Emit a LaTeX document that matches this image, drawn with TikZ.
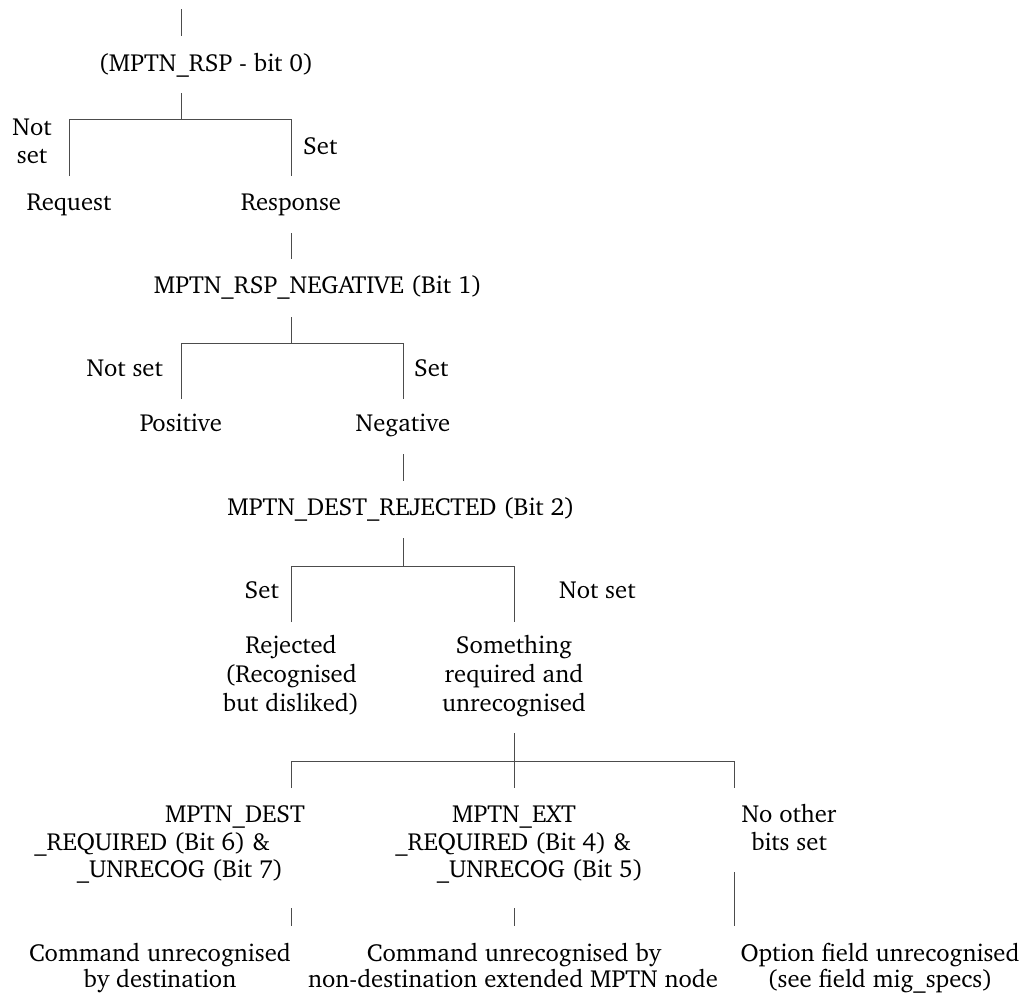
\documentclass[tikz,border=0pt]{standalone}
\usepackage[T1]{fontenc}
\usepackage{charter}
\begin{document}
\begin{tikzpicture}[x=1pt,y=-1pt,
  txt/.style={inner sep=0pt,anchor=base,font=\fontsize{24.7}{29}\selectfont},
  wire/.style={draw=black!70,line width=1pt}]
\useasboundingbox (0,0) rectangle (1028,994);

% ---- text labels ----
\node[txt] (bit0) at (206,71) {(MPTN\_RSP - bit 0)};
\node[txt] (ns0a) at (32,135) {Not};
\node[txt] (ns0b) at (32,163) {set};
\node[txt,anchor=base west] (s0) at (303,154) {Set};
\node[txt] (req) at (69,210) {Request};
\node[txt] (rsp) at (291,210) {Response};

\node[txt] (bit1) at (318,293) {MPTN\_RSP\_NEGATIVE (Bit 1)};
\node[txt,anchor=base east] (ns1) at (163,376) {Not set};
\node[txt,anchor=base west] (s1) at (414,376) {Set};
\node[txt] (pos) at (181,431) {Positive};
\node[txt] (neg) at (403,431) {Negative};

\node[txt] (bit2) at (401,515) {MPTN\_DEST\_REJECTED (Bit 2)};
\node[txt,anchor=base east] (s2) at (279,598) {Set};
\node[txt,anchor=base west] (ns2) at (559,598) {Not set};
\node[txt] (rej1) at (291,653) {Rejected};
\node[txt] (rej2) at (291,682) {(Recognised};
\node[txt] (rej3) at (291,711) {but disliked)};
\node[txt] (unr1) at (514,653) {Something};
\node[txt] (unr2) at (514,682) {required and};
\node[txt] (unr3) at (514,711) {unrecognised};

\node[txt] (dst1) at (235,822) {MPTN\_DEST};
\node[txt] (dst2) at (152,850) {\_REQUIRED (Bit 6) \&};
\node[txt] (dst3) at (180,877) {\_UNRECOG (Bit 7)};
\node[txt] (ext1) at (514,822) {MPTN\_EXT};
\node[txt] (ext2) at (513,850) {\_REQUIRED (Bit 4) \&};
\node[txt] (ext3) at (540,877) {\_UNRECOG (Bit 5)};
\node[txt] (oth1) at (789,822) {No other};
\node[txt] (oth2) at (789,850) {bits set};

\node[txt] (res1a) at (160,961) {Command unrecognised};
\node[txt] (res1b) at (160,987) {by destination};
\node[txt] (res2a) at (514,961) {Command unrecognised by};
\node[txt] (res2b) at (513,987) {non-destination extended MPTN node};
\node[txt] (res3a) at (880,961) {Option field unrecognised};
\node[txt] (res3b) at (880,987) {(see field mig\_specs)};

% ---- wiring points ----
\coordinate (t0a) at (181,9);   \coordinate (t0b) at (181,36);
\coordinate (d0a) at (181,93);  \coordinate (d0b) at (181,119);
\coordinate (b0l) at (69,119);  \coordinate (b0r) at (291,119);
\coordinate (e0l) at (69,176);  \coordinate (e0r) at (291,176);

\coordinate (t1a) at (291,233); \coordinate (t1b) at (291,259);
\coordinate (d1a) at (291,317); \coordinate (d1b) at (291,343);
\coordinate (b1l) at (181,343); \coordinate (b1r) at (403,343);
\coordinate (e1l) at (181,399); \coordinate (e1r) at (403,399);

\coordinate (t2a) at (403,454); \coordinate (t2b) at (403,481);
\coordinate (d2a) at (403,538); \coordinate (d2b) at (403,566);
\coordinate (b2l) at (291,566); \coordinate (b2r) at (514,566);
\coordinate (e2l) at (291,622); \coordinate (e2r) at (514,622);

\coordinate (d3a) at (514,733); \coordinate (d3b) at (514,788);
\coordinate (b3l) at (291,761); \coordinate (b3r) at (734,761);
\coordinate (e3l) at (291,788); \coordinate (e3r) at (734,788);

\coordinate (f1a) at (291,908); \coordinate (f1b) at (291,926);
\coordinate (f2a) at (514,908); \coordinate (f2b) at (514,926);
\coordinate (f3a) at (734,872); \coordinate (f3b) at (734,926);

% ---- connectors ----
\path[wire] (t0a) -- (t0b);
\path[wire] (d0a) -- (d0b);
\path[wire] (e0l) -- (b0l) -- (b0r) -- (e0r);

\path[wire] (t1a) -- (t1b);
\path[wire] (d1a) -- (d1b);
\path[wire] (e1l) -- (b1l) -- (b1r) -- (e1r);

\path[wire] (t2a) -- (t2b);
\path[wire] (d2a) -- (d2b);
\path[wire] (e2l) -- (b2l) -- (b2r) -- (e2r);

\path[wire] (d3a) -- (d3b);
\path[wire] (e3l) -- (b3l) -- (b3r) -- (e3r);

\path[wire] (f1a) -- (f1b);
\path[wire] (f2a) -- (f2b);
\path[wire] (f3a) -- (f3b);
\end{tikzpicture}
\end{document}
